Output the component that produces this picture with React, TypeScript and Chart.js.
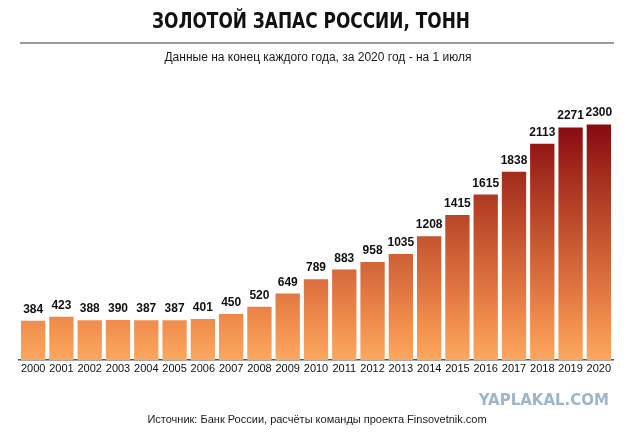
import React, { useEffect, useRef } from "react";
import { Chart, registerables } from "chart.js";

Chart.register(...registerables);

const years = [
  "2000", "2001", "2002", "2003", "2004", "2005", "2006", "2007", "2008", "2009", "2010",
  "2011", "2012", "2013", "2014", "2015", "2016", "2017", "2018", "2019", "2020",
];
const goldTonnes = [
  384, 423, 388, 390, 387, 387, 401, 450, 520, 649, 789,
  883, 958, 1035, 1208, 1415, 1615, 1838, 2113, 2271, 2300,
];
const titleText = "ЗОЛОТОЙ ЗАПАС РОССИИ, ТОНН";
const subtitleText = "Данные на конец каждого года, за 2020 год - на 1 июля";
const sourceText = "Источник: Банк России, расчёты команды проекта Finsovetnik.com";
const watermarkText = "YAPLAKAL.COM";

const gradientStops: [number, string][] = [
  [0, "#FCA860"],
  [0.167, "#F08C4B"],
  [0.28, "#E27843"],
  [0.45, "#CD6035"],
  [0.615, "#B94629"],
  [0.8, "#A22A1D"],
  [0.92, "#921615"],
  [1, "#860A0F"],
];

const decorPlugin = {
  id: "decor",
  afterDraw(chart: any) {
    const ctx = chart.ctx as CanvasRenderingContext2D;
    ctx.save();
    // Title (narrowed to match the condensed display face)
    ctx.fillStyle = "#111";
    ctx.textAlign = "center";
    ctx.textBaseline = "middle";
    ctx.font = "bold 22px 'DejaVu Sans', sans-serif";
    const w = ctx.measureText(titleText).width;
    const sx = Math.min(1, 318 / w);
    ctx.save();
    ctx.translate(311, 22);
    ctx.scale(sx, 1);
    ctx.fillText(titleText, 0, 0);
    ctx.restore();
    // Rule
    ctx.strokeStyle = "#7a7a7a";
    ctx.lineWidth = 1.5;
    ctx.beginPath();
    ctx.moveTo(20, 43);
    ctx.lineTo(614, 43);
    ctx.stroke();
    // Subtitle
    ctx.fillStyle = "#1a1a1a";
    ctx.textAlign = "center";
    ctx.font = "12px 'Liberation Sans', Arial, sans-serif";
    ctx.fillText(subtitleText, 318, 58);
    // Source
    ctx.font = "11px 'Liberation Sans', Arial, sans-serif";
    ctx.fillText(sourceText, 317, 420);
    // Watermark
    ctx.fillStyle = "#9EB5CB";
    ctx.textAlign = "right";
    ctx.font = "bold 15px 'DejaVu Sans', sans-serif";
    ctx.fillText(watermarkText, 609, 401);
    ctx.restore();
  },
};

const valueLabelPlugin = {
  id: "valueLabels",
  afterDatasetsDraw(chart: any) {
    const ctx = chart.ctx as CanvasRenderingContext2D;
    const meta = chart.getDatasetMeta(0);
    ctx.save();
    ctx.fillStyle = "#111";
    ctx.textAlign = "center";
    ctx.textBaseline = "alphabetic";
    ctx.font = "bold 12px 'Liberation Sans', Arial, sans-serif";
    meta.data.forEach((bar: any, i: number) => {
      ctx.fillText(String(goldTonnes[i]), bar.x, bar.y - 8);
    });
    ctx.restore();
  },
};

export default function App() {
  const canvasRef = useRef<HTMLCanvasElement | null>(null);

  useEffect(() => {
    if (!canvasRef.current) return;
    const chart = new Chart(canvasRef.current, {
      type: "bar",
      data: {
        labels: years,
        datasets: [
          {
            data: goldTonnes,
            backgroundColor: (context: any) => {
              const c = context.chart;
              const area = c.chartArea;
              const yScale = c.scales.y;
              if (!area || !yScale) return "#E27843";
              const y0 = yScale.getPixelForValue(0);
              const y1 = yScale.getPixelForValue(2300);
              const g = c.ctx.createLinearGradient(0, y0, 0, y1);
              gradientStops.forEach(([p, col]) => g.addColorStop(p, col));
              return g;
            },
            borderWidth: 0,
            barPercentage: 0.86,
            categoryPercentage: 1,
          },
        ],
      },
      options: {
        responsive: false,
        animation: false,
        layout: { padding: { top: 104, left: 19, right: 27, bottom: 52 } },
        plugins: {
          legend: { display: false },
          title: { display: false },
          tooltip: { enabled: false },
        },
        scales: {
          x: {
            grid: { display: false, drawTicks: false, tickLength: 0 },
            border: { display: true, color: "#555", width: 1.5 },
            ticks: {
              color: "#111",
              padding: 2,
              font: { family: "'Liberation Sans', Arial, sans-serif", size: 11 },
              maxRotation: 0,
              autoSkip: false,
            },
            afterFit: (s: any) => {
              s.height = 20;
            },
          },
          y: {
            display: false,
            min: 0,
            max: 2500,
          },
        },
      },
      plugins: [valueLabelPlugin, decorPlugin],
    });
    return () => chart.destroy();
  }, []);

  return (
    <div style={{ position: "fixed", left: 0, top: 0, width: 640, height: 432, background: "#fff" }}>
      <canvas ref={canvasRef} width={640} height={432} style={{ display: "block" }} />
    </div>
  );
}
